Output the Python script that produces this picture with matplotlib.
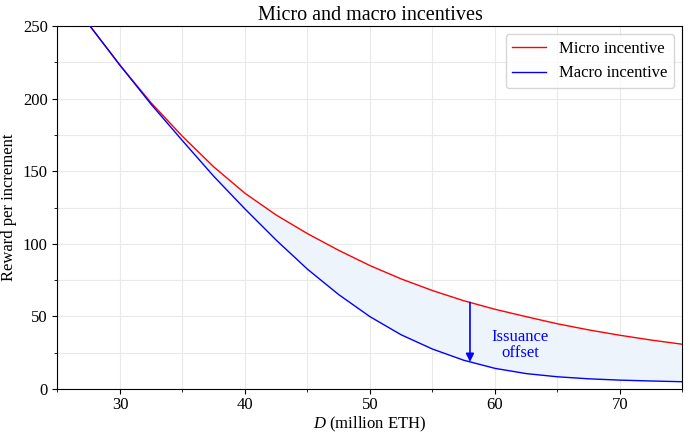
import matplotlib
matplotlib.use('Agg')
import matplotlib.pyplot as plt
from matplotlib.ticker import MultipleLocator
import numpy as np

plt.rcParams['font.family'] = 'Liberation Serif'
plt.rcParams['mathtext.fontset'] = 'custom'
plt.rcParams['mathtext.rm'] = 'Liberation Serif'
plt.rcParams['mathtext.it'] = 'Liberation Serif:italic'

# values (D in million ETH)
D = [27.6, 30, 32.5, 35, 37.5, 40, 42.5, 45, 47.5, 50, 52.5, 55,
     57.5, 60, 62.5, 65, 67.5, 70, 72.5, 75]
micro = [250, 223, 197, 174, 153, 134.8, 119.8, 107, 95.5, 85, 75.8, 67.8,
         60.8, 54.9, 49.8, 44.9, 40.7, 37.0, 33.7, 30.8]
macro = [250, 223, 196, 171, 146.5, 124, 102.5, 82.5, 65, 49.8, 37.3, 27.5,
         19.8, 14.2, 10.6, 8.4, 7.0, 6.1, 5.5, 5.0]

arrow_D = 58
label_D, label_y = 62, 30

fig = plt.figure(figsize=(6.9, 4.38), dpi=100)
ax = fig.add_axes([0.0833, 0.1119, 0.9058, 0.8287])

ax.fill_between(D, micro, macro, color='#edf4fc', lw=0, zorder=1)
ax.plot(D, micro, color='red', lw=1.0, label='Micro incentive', zorder=3)
ax.plot(D, macro, color='blue', lw=1.0, label='Macro incentive', zorder=3)

y_top = np.interp(arrow_D, D, micro)
y_bot = np.interp(arrow_D, D, macro)
ax.annotate('', xy=(arrow_D, y_bot), xytext=(arrow_D, y_top),
            arrowprops=dict(arrowstyle='-|>', color='blue', lw=1.2, mutation_scale=12,
                            shrinkA=0, shrinkB=0), zorder=4)
ax.text(label_D, label_y, 'Issuance\noffset', color='blue', fontsize=12,
        ha='center', va='center', linespacing=1.0)

ax.set_xlim(25, 75)
ax.set_ylim(0, 250)
ax.xaxis.set_major_locator(MultipleLocator(10))
ax.xaxis.set_minor_locator(MultipleLocator(5))
ax.yaxis.set_major_locator(MultipleLocator(50))
ax.yaxis.set_minor_locator(MultipleLocator(25))
ax.grid(True, which='both', color='#e9e9e9', lw=0.8, zorder=0)
ax.set_axisbelow(True)
ax.tick_params(labelsize=12)
ax.tick_params(axis='x', pad=2.5)

ax.set_title('Micro and macro incentives', fontsize=14.5, pad=4)
ax.set_xlabel('$D$ (million ETH)', fontsize=12, labelpad=1)
ax.set_ylabel('Reward per increment', fontsize=12, labelpad=4)
ax.legend(loc='upper right', fontsize=12)

fig.savefig('out.png', dpi=100)
